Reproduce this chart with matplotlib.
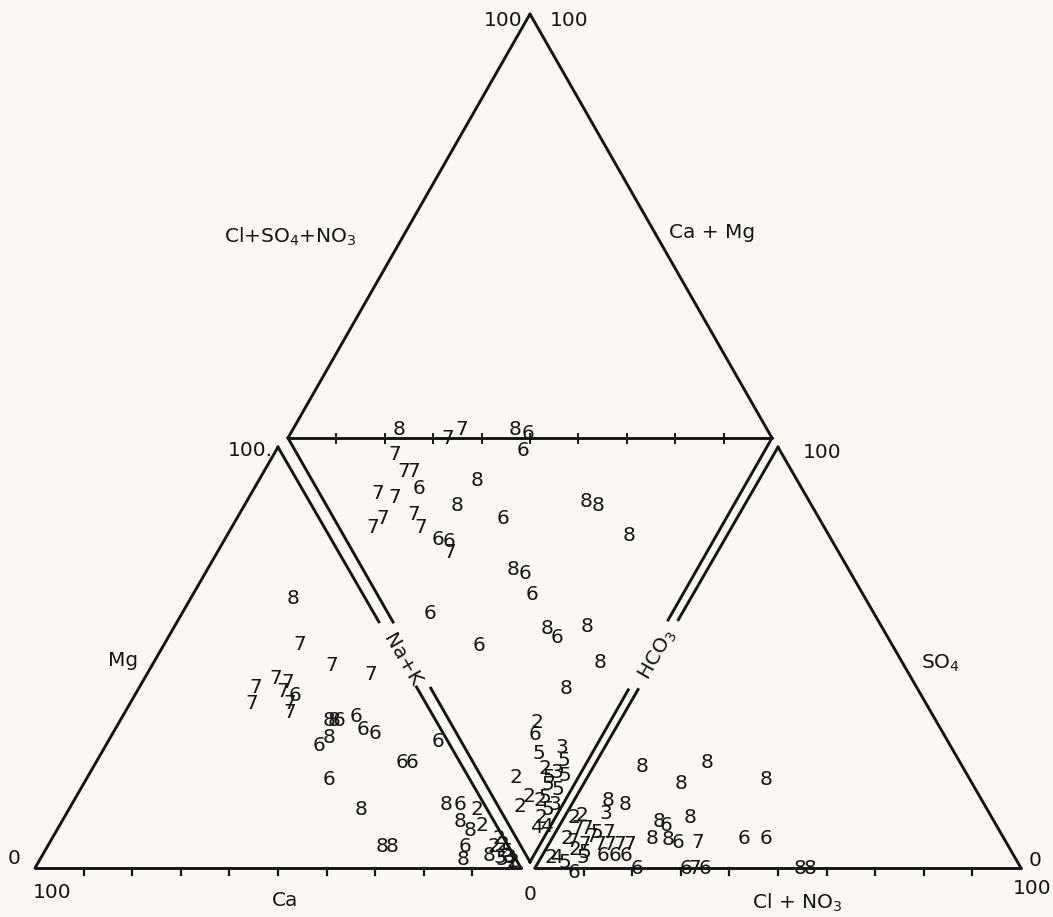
import numpy as np
import matplotlib
matplotlib.use("Agg")
import matplotlib.pyplot as plt

# cation triangle: Ca %, Mg % (Na+K = rest), label = campaign number
cat_ca = [15, 19, 15, 8, 33, 28, 26, 28, 26, 36, 28, 29, 22, 21, 20, 16, 16, 14, 27, 24,
          2, 12, 10, 29, 26, 26, 24, 8, 5, 2, 7, 6, 3, 9, 11, 5, 3,
          1, 1, 1, 1, 3, 1, 3, 2]
cat_mg = [64, 53, 48, 46, 43, 45, 44, 42, 41, 39, 39, 37, 35, 35, 35, 36, 33, 32, 29, 31,
          30, 25, 25, 21, 14, 5, 5, 15, 15, 14, 11, 9, 10, 5, 2, 3, 2.6,
          7, 5.5, 4, 2.5, 2, 1.5, 5, 1]
cat_lab = ['8', '7', '7', '7', '7', '7', '7', '7', '6', '7', '7', '7', '8', '8', '6', '6', '6', '6', '6', '8',
           '6', '6', '6', '6', '8', '8', '8', '8', '6', '2', '8', '8', '2', '6', '8', '8', '3',
           '2', '2', '5', '3', '5', '2', '2', '3']

# anion triangle: Cl+NO3 %, SO4 % (HCO3 = rest)
an_cl = [10, 23, 20, 37, 7, 8, 11, 20, 22, 26, 20.5, 24, 26.5, 30.5, 39.5, 44, 8.5, 11, 2, 3.5,
         7.5, 10.6, 12.7, 14.7, 16.8, 12.5, 15, 17.3,
         21, 31, 32.8, 35, 54.5, 56.5, 8.5,
         2, 3.4, 8.6, 3, 4.7, 8.4, 8, 4, 6, 6, 5.6]
an_so4 = [24, 25, 20, 21, 16, 13, 15, 11, 10, 12, 7, 6.7, 6, 6, 7, 7, 8.5, 8.5, 12, 12.5,
          5.5, 5.5, 5.5, 5.5, 5.5, 2.9, 2.9, 2.9,
          0, 0, 0, 0, 0, 0, -1,
          2.4, 2.6, 2.6, 7, 6.2, 3.8, 7.4, 9.5, 9.5, 4.3, 1.2]
an_lab = ['8', '8', '8', '8', '8', '3', '8', '8', '6', '8', '8', '8', '6', '7', '6', '6', '5', '7', '2', '2',
          '7', '7', '7', '7', '7', '6', '6', '6',
          '6', '6', '7', '6', '8', '8', '6',
          '2', '4', '5', '2', '7', '5', '7', '7', '7', '2', '5']

# diamond: Ca+Mg %, Cl+SO4+NO3 %
dia_camg = [78, 67, 65, 54, 51, 50, 76, 72, 70, 56, 75, 71, 67, 57, 46, 31, 28, 18, 72, 71,
            65, 62, 57, 54.5, 53, 38, 35, 31, 50, 24, 21, 16, 36, 9, 13, 15, 14, 11, 7, 5,
            8, 13, 8, 8.5, 2.6, 0.6, 3,
            6, 5, 5.4, 2.7, 4.5, 1.6, 2.4, 5.2, 3]
dia_an = [24, 33, 37, 48, 50, 47, 20, 20, 22, 34, 12, 15, 21, 27, 35, 54, 56, 59, 7, 10,
          17, 17, 19, 21, 20, 31, 33, 32, 8.5, 31, 32, 39.5, 15, 38, 28, 18, 16, 14.5, 20, 19,
          14, 7, 7.5, 4.5, 5.5, 7.7, 7.6,
          14, 16, 12.8, 14.3, 10.7, 11.9, 9.9, 9.4, 17.4]
dia_lab = ['8', '7', '7', '8', '6', '6', '7', '7', '7', '8', '7', '7', '6', '8', '6', '8', '8', '8', '7', '7',
           '7', '7', '6', '6', '7', '8', '6', '6', '6', '8', '6', '8', '6', '8', '8', '2', '6', '5', '3', '5',
           '2', '2', '2', '2', '4', '4', '2',
           '5', '3', '5', '5', '5', '3', '5', '2', '5']

# layout (figure pixels)
S = 486
H = S * np.sqrt(3) / 2
X0L, X0R, YB = 35, 535, 868
BX, BY, DW, DH = 530, 862, 242, 424
INK = '#151515'
LW = 2.1


def cation_xy(ca, mg):
    xf = 100 - np.asarray(ca) - np.asarray(mg) / 2
    return X0L + xf / 100 * S, YB - np.asarray(mg) / 100 * H


def anion_xy(cl, so4):
    xf = np.asarray(cl) + np.asarray(so4) / 2
    return X0R + xf / 100 * S, YB - np.asarray(so4) / 100 * H


def diamond_xy(camg, an):
    p = np.asarray(camg) / 100
    q = np.asarray(an) / 100
    return BX + (q - p) * DW, BY - (p + q) * DH


def edge(ax, p0, p1, gap=None):
    p0, p1 = np.array(p0, float), np.array(p1, float)
    if gap is None:
        ax.plot([p0[0], p1[0]], [p0[1], p1[1]], color=INK, lw=LW, solid_capstyle='round')
        return
    a = p0 + (p1 - p0) * gap[0]
    b = p0 + (p1 - p0) * gap[1]
    ax.plot([p0[0], a[0]], [p0[1], a[1]], color=INK, lw=LW)
    ax.plot([b[0], p1[0]], [b[1], p1[1]], color=INK, lw=LW)


fig = plt.figure(figsize=(10.53, 9.17), dpi=100, facecolor='#fbf8f3')
ax = fig.add_axes([0, 0, 1, 1])
ax.set_xlim(0, 1053)
ax.set_ylim(917, 0)
ax.axis('off')

# cation triangle
apL = (X0L + S / 2, YB - H)
edge(ax, (X0L, YB), apL)
edge(ax, (X0L, YB), (X0L + S, YB))
edge(ax, (X0L + S, YB), apL, gap=(0.43, 0.585))

# anion triangle
apR = (X0R + S / 2, YB - H)
edge(ax, (X0R + S, YB), apR)
edge(ax, (X0R, YB), (X0R + S, YB))
edge(ax, (X0R, YB), apR, gap=(0.424, 0.59))

# diamond
T = (BX, BY - 2 * DH)
DL = (BX - DW, BY - DH)
DR = (BX + DW, BY - DH)
edge(ax, DL, T)
edge(ax, T, DR)
edge(ax, DL, DR)
edge(ax, (BX, BY), DL, gap=(0.41, 0.566))
edge(ax, (BX, BY), DR, gap=(0.406, 0.571))

# ticks
for i in range(1, 10):
    for x0 in (X0L, X0R):
        xt = x0 + i * S / 10
        ax.plot([xt, xt], [YB, YB + 7], color=INK, lw=1.6)
    xt = DL[0] + i * (DR[0] - DL[0]) / 10
    ax.plot([xt, xt], [DL[1] - 4, DL[1] + 5], color=INK, lw=1.4)

# axis texts
fs = 14.5
kw = dict(color=INK, fontsize=fs, ha='center', va='center')
ax.text(T[0] - 8, 20, '100', ha='right', va='center', color=INK, fontsize=fs)
ax.text(T[0] + 20, 20, '100', ha='left', va='center', color=INK, fontsize=fs)
ax.text(290, 237, r'Cl+SO$_4$+NO$_3$', **kw)
ax.text(712, 232, 'Ca + Mg', **kw)
ax.text(250, 450, '100.', **kw)
ax.text(822, 452, '100', **kw)
ax.text(123, 660, 'Mg', **kw)
ax.text(940, 663, r'SO$_4$', **kw)
ax.text(402, 660, 'Na+K', rotation=-60, rotation_mode='anchor', **kw)
ax.text(658, 655, r'HCO$_3$', rotation=60, rotation_mode='anchor', **kw)
ax.text(14, 858, '0', **kw)
ax.text(52, 892, '100', **kw)
ax.text(285, 900, 'Ca', **kw)
ax.text(530, 895, '0', **kw)
ax.text(797, 903, r'Cl + NO$_3$', **kw)
ax.text(1035, 860, '0', **kw)
ax.text(1032, 888, '100', **kw)

# data labels
for xs, ys, labs in (cation_xy(cat_ca, cat_mg) + (cat_lab,),
                     anion_xy(an_cl, an_so4) + (an_lab,),
                     diamond_xy(dia_camg, dia_an) + (dia_lab,)):
    for x, y, s in zip(xs, ys, labs):
        ax.text(x, y, s, **kw)

fig.savefig('out.png', dpi=100, facecolor=fig.get_facecolor())
